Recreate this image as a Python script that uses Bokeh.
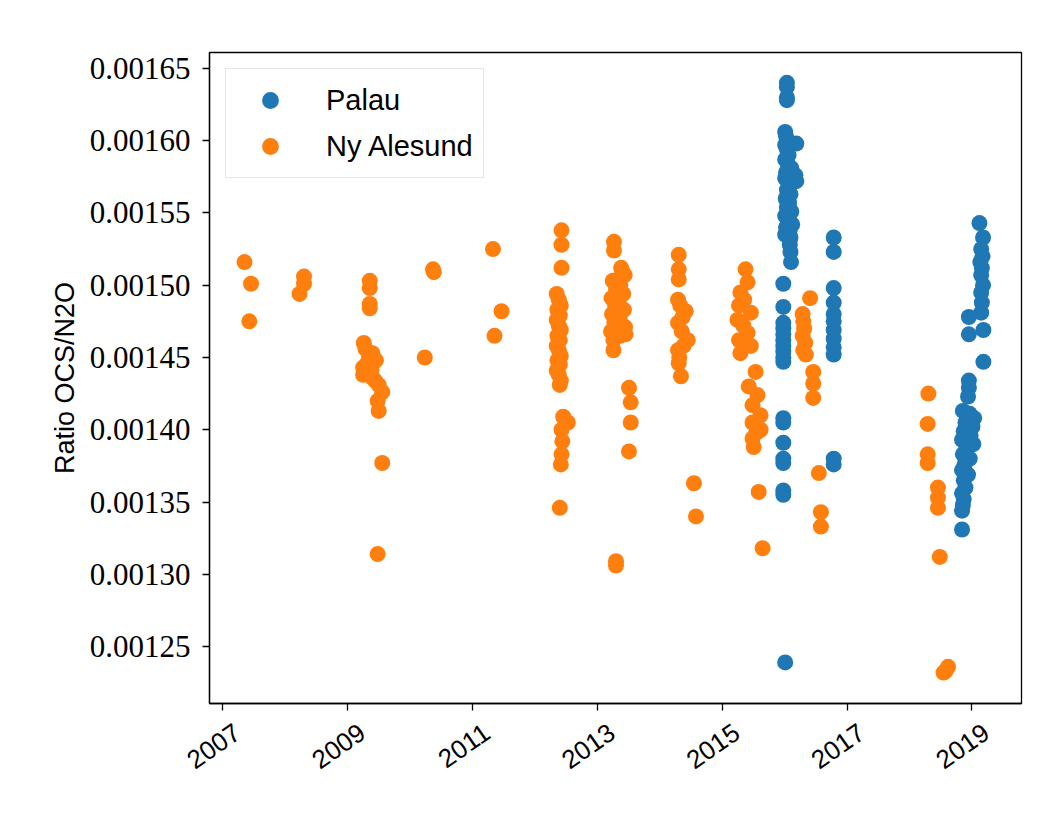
import math
import pandas as pd
from bokeh.plotting import figure
from bokeh.models import (ColumnDataSource, FixedTicker, PrintfTickFormatter,
                          CustomJSTickFormatter, DatetimeTickFormatter, DatetimeAxis,
                          Range1d, Legend, LegendItem)
from bokeh.embed import file_html
from bokeh.resources import INLINE

# ---- Palau (blue) ----
palau_dates = [
    "2016-01-15", "2016-01-15", "2016-01-15", "2016-01-15",
    "2016-01-05", "2016-01-10", "2016-01-20", "2016-01-05", "2016-03-10", "2016-01-15",
    "2016-01-25", "2016-01-05", "2016-01-20", "2016-02-10", "2016-01-10", "2016-03-05",
    "2016-03-10", "2016-01-05", "2016-01-25", "2016-01-15", "2016-02-05", "2016-01-08",
    "2016-01-28", "2016-01-15", "2016-02-10", "2016-01-05", "2016-01-25", "2016-02-15",
    "2016-01-10", "2016-01-30", "2016-01-05", "2016-02-05", "2016-02-01", "2016-02-05",
    "2016-02-08",
    "2015-12-25", "2015-12-25", "2015-12-25", "2015-12-25", "2015-12-25", "2015-12-25",
    "2015-12-25", "2015-12-25", "2015-12-25", "2015-12-25", "2015-12-25", "2015-12-25",
    "2015-12-25", "2015-12-25", "2015-12-25", "2015-12-25", "2015-12-25", "2016-01-05",
    "2016-10-15", "2016-10-15", "2016-10-15", "2016-10-15", "2016-10-15", "2016-10-15",
    "2016-10-15", "2016-10-15", "2016-10-15", "2016-10-15", "2016-10-15", "2016-10-15",
    "2019-02-15", "2019-03-08", "2019-02-25", "2019-03-05", "2019-02-20", "2019-03-01",
    "2019-02-25", "2019-03-08", "2019-02-25", "2019-03-01", "2019-02-25", "2018-12-15",
    "2019-03-10", "2018-12-15", "2019-03-10", "2018-12-15", "2018-12-15", "2018-12-10",
    "2018-11-10", "2018-12-20", "2019-01-15", "2018-11-25", "2019-01-05", "2018-11-15",
    "2018-12-25", "2018-11-05", "2019-01-10", "2018-11-30", "2018-11-10", "2018-12-20",
    "2018-11-20", "2018-11-05", "2018-12-10", "2018-11-15", "2018-11-25", "2018-11-05",
    "2018-11-15", "2018-11-10", "2018-11-05", "2018-11-05",
]
palau_values = [
    0.001640, 0.001637, 0.001630, 0.001628,
    0.001606, 0.001603, 0.001600, 0.001597, 0.001598, 0.001594,
    0.001590, 0.001587, 0.001584, 0.001581, 0.001578, 0.001576,
    0.001572, 0.001574, 0.001570, 0.001566, 0.001563, 0.001560,
    0.001557, 0.001554, 0.001551, 0.001548, 0.001545, 0.001542,
    0.001540, 0.001537, 0.001535, 0.001533, 0.001528, 0.001523,
    0.001516,
    0.001501, 0.001485, 0.001474, 0.001470, 0.001466, 0.001462,
    0.001458, 0.001454, 0.001450, 0.001447, 0.001408, 0.001405,
    0.001391, 0.001380, 0.001377, 0.001358, 0.001355, 0.001239,
    0.001533, 0.001523, 0.001498, 0.001488, 0.001480, 0.001475,
    0.001469, 0.001463, 0.001457, 0.001452, 0.001380, 0.001376,
    0.001543, 0.001533, 0.001525, 0.001520, 0.001516, 0.001512,
    0.001507, 0.001500, 0.001495, 0.001488, 0.001481, 0.001478,
    0.001469, 0.001466, 0.001447, 0.001434, 0.001429, 0.001423,
    0.001413, 0.001411, 0.001408, 0.001405, 0.001402, 0.001399,
    0.001396, 0.001393, 0.001390, 0.001387, 0.001383, 0.001380,
    0.001376, 0.001372, 0.001369, 0.001365, 0.001360, 0.001356,
    0.001352, 0.001348, 0.001344, 0.001331,
]

# ---- Ny Alesund (orange) ----
ny_dates = [
    "2007-05-08", "2007-06-15", "2007-06-05",
    "2008-04-20", "2008-04-20", "2008-03-25",
    "2009-05-10", "2009-05-10", "2009-05-10", "2009-05-10", "2009-04-05", "2009-04-15",
    "2009-05-25", "2009-05-05", "2009-06-15", "2009-04-25", "2009-04-01", "2009-05-20",
    "2009-04-01", "2009-05-25", "2009-06-10", "2009-07-01", "2009-07-22", "2009-06-25",
    "2009-07-01", "2009-07-22", "2009-06-25",
    "2010-03-28", "2010-05-15", "2010-05-20",
    "2011-05-01", "2011-06-20", "2011-05-10",
    "2012-06-05", "2012-06-05", "2012-06-05",
    "2012-05-08", "2012-05-20", "2012-06-01", "2012-05-12", "2012-05-26", "2012-05-08",
    "2012-05-20", "2012-06-01", "2012-05-12", "2012-05-26", "2012-05-08", "2012-05-20",
    "2012-06-01", "2012-05-12", "2012-05-26", "2012-05-08", "2012-05-20", "2012-06-01",
    "2012-05-26",
    "2012-06-15", "2012-07-12", "2012-06-05", "2012-06-10", "2012-06-05", "2012-06-01",
    "2012-05-26",
    "2013-04-08", "2013-04-08", "2013-05-20",
    "2013-05-25", "2013-06-10", "2013-04-01", "2013-05-15", "2013-04-20", "2013-06-01",
    "2013-03-25", "2013-05-05", "2013-04-15", "2013-06-05", "2013-03-28", "2013-05-10",
    "2013-04-10", "2013-06-12", "2013-03-22", "2013-05-15", "2013-04-05", "2013-06-15",
    "2013-04-05",
    "2013-07-05", "2013-07-15", "2013-07-15", "2013-07-05", "2013-04-20", "2013-04-20",
    "2014-04-22", "2014-04-22", "2014-04-22", "2014-04-18", "2014-06-02", "2014-04-18",
    "2014-05-15", "2014-06-14", "2014-04-18", "2014-04-22", "2014-05-05", "2014-05-01",
    "2014-05-10", "2014-04-25", "2014-05-20", "2014-07-20", "2014-08-01",
    "2015-05-18", "2015-05-30", "2015-04-18", "2015-05-10", "2015-04-10", "2015-06-18",
    "2015-04-01", "2015-05-30", "2015-05-05", "2015-04-10", "2015-06-18", "2015-04-18",
    "2015-07-16", "2015-06-06", "2015-07-27", "2015-06-28", "2015-08-14", "2015-06-28",
    "2015-08-14", "2015-06-28", "2015-07-20", "2015-07-05", "2015-08-03", "2015-08-26",
    "2016-05-30", "2016-04-16", "2016-04-20", "2016-04-25", "2016-04-16", "2016-05-01",
    "2016-04-20", "2016-05-05", "2016-06-17", "2016-06-17", "2016-06-17", "2016-07-20",
    "2016-08-01", "2016-08-01",
    "2018-04-22", "2018-04-18", "2018-04-18", "2018-04-18", "2018-06-17", "2018-06-17",
    "2018-06-17", "2018-06-28", "2018-08-15", "2018-08-01", "2018-07-20",
]
ny_values = [
    0.001516, 0.001501, 0.001475,
    0.001506, 0.001501, 0.001494,
    0.001503, 0.001498, 0.001487, 0.001484, 0.001460, 0.001456,
    0.001453, 0.001451, 0.001448, 0.001446, 0.001443, 0.001441,
    0.001438, 0.001436, 0.001434, 0.001431, 0.001426, 0.001420,
    0.001413, 0.001377, 0.001314,
    0.001450, 0.001511, 0.001509,
    0.001525, 0.001482, 0.001465,
    0.001538, 0.001528, 0.001512,
    0.001494, 0.001490, 0.001486, 0.001483, 0.001479, 0.001476,
    0.001472, 0.001469, 0.001465, 0.001462, 0.001458, 0.001455,
    0.001451, 0.001448, 0.001445, 0.001441, 0.001438, 0.001434,
    0.001431,
    0.001409, 0.001405, 0.001400, 0.001392, 0.001383, 0.001376,
    0.001346,
    0.001530, 0.001524, 0.001512,
    0.001510, 0.001507, 0.001503, 0.001500, 0.001497, 0.001494,
    0.001491, 0.001489, 0.001486, 0.001483, 0.001480, 0.001477,
    0.001474, 0.001471, 0.001468, 0.001465, 0.001462, 0.001466,
    0.001455,
    0.001429, 0.001419, 0.001405, 0.001385, 0.001309, 0.001306,
    0.001521, 0.001511, 0.001504, 0.001490, 0.001482, 0.001474,
    0.001478, 0.001462, 0.001455, 0.001446, 0.001437, 0.001486,
    0.001468, 0.001450, 0.001458, 0.001363, 0.001340,
    0.001511, 0.001502, 0.001495, 0.001490, 0.001486, 0.001481,
    0.001476, 0.001467, 0.001472, 0.001462, 0.001458, 0.001453,
    0.001440, 0.001430, 0.001424, 0.001417, 0.001410, 0.001405,
    0.001400, 0.001394, 0.001398, 0.001388, 0.001357, 0.001318,
    0.001491, 0.001480, 0.001475, 0.001470, 0.001465, 0.001460,
    0.001455, 0.001452, 0.001440, 0.001432, 0.001422, 0.001370,
    0.001343, 0.001333,
    0.001425, 0.001404, 0.001383, 0.001377, 0.001360, 0.001353,
    0.001346, 0.001312, 0.001236, 0.001233, 0.001232,
]

y_ticks = [0.00125, 0.00130, 0.00135, 0.00140, 0.00145, 0.00150, 0.00155, 0.00160, 0.00165]
x_tick_years = [2007, 2009, 2011, 2013, 2015, 2017, 2019]
series_names = ["Palau", "Ny Alesund"]
series_colors = ["#1f77b4", "#ff7f0e"]

palau_src = ColumnDataSource(data=dict(x=pd.to_datetime(palau_dates), y=palau_values))
ny_src = ColumnDataSource(data=dict(x=pd.to_datetime(ny_dates), y=ny_values))

y_lo, y_hi = 0.0012106, 0.001661

p = figure(width=1040, height=795, x_axis_type="datetime",
           output_backend="svg", toolbar_location=None,
           min_border_left=209, min_border_right=19,
           min_border_top=52, min_border_bottom=92,
           x_range=Range1d(pd.Timestamp("2006-10-15"), pd.Timestamp("2019-10-19")),
           y_range=Range1d(y_lo, y_hi))

r1 = p.scatter("x", "y", source=palau_src, size=16, color=series_colors[0], line_color=None)
r2 = p.scatter("x", "y", source=ny_src, size=16, color=series_colors[1], line_color=None)

p.xgrid.visible = False
p.ygrid.visible = False
p.outline_line_color = "black"
p.outline_line_width = 1.3
p.outline_line_alpha = 1.0
p.background_fill_color = "white"
p.border_fill_color = "white"

# y axis
p.yaxis.ticker = FixedTicker(ticks=y_ticks)
p.yaxis.formatter = PrintfTickFormatter(format="%.5f")
p.yaxis.axis_label = "Ratio OCS/N2O"
p.yaxis.axis_label_text_font = "Liberation Sans"
p.yaxis.axis_label_text_font_style = "normal"
p.yaxis.axis_label_text_font_size = "27px"
p.yaxis.axis_label_text_color = "black"
p.yaxis.axis_label_standoff = 7
p.yaxis.major_label_text_font = "Liberation Serif"
p.yaxis.major_label_text_font_size = "31px"
p.yaxis.major_label_standoff = 12

# x axis: tick marks on Jan 1 of each labelled year
tick_dates = [pd.Timestamp(f"{y}-01-01") for y in x_tick_years]
p.xaxis.ticker = FixedTicker(ticks=[t.value / 1e6 for t in tick_dates])
p.xaxis.formatter = CustomJSTickFormatter(code="return ''")
p.xaxis.major_label_standoff = 0

for ax in (p.xaxis[0], p.yaxis[0]):
    ax.major_tick_out = 7
    ax.major_tick_in = 0
    ax.minor_tick_out = 0
    ax.minor_tick_in = 0
    ax.axis_line_color = "black"
    ax.axis_line_width = 1.3
    ax.major_tick_line_width = 1.3
    ax.major_label_text_color = "black"

# rotated year labels (matplotlib-style slanted labels)
label_shift = pd.Timedelta(days=85)
fmt = "%Y"
label_axis = DatetimeAxis(
    ticker=FixedTicker(ticks=[(t + label_shift).value / 1e6 for t in tick_dates]),
    formatter=DatetimeTickFormatter(years=fmt, months=fmt, days=fmt, hours=fmt,
                                    hourmin=fmt, minutes=fmt, minsec=fmt,
                                    seconds=fmt, milliseconds=fmt, microseconds=fmt),
    major_label_orientation=math.radians(35),
    major_label_text_font="Liberation Sans",
    major_label_text_font_size="26px",
    major_label_text_color="black",
    major_label_standoff=19,
    major_tick_out=0, major_tick_in=0, minor_tick_out=0, minor_tick_in=0,
    axis_line_color=None, major_tick_line_color=None, minor_tick_line_color=None)
p.add_layout(label_axis, "below")

legend = Legend(items=[LegendItem(label=series_names[0], renderers=[r1]),
                       LegendItem(label=series_names[1], renderers=[r2])],
                location="top_left")
legend.margin = 16
legend.padding = 10
legend.spacing = 4
legend.glyph_width = 68
legend.glyph_height = 42
legend.label_height = 42
legend.label_standoff = 22
legend.label_text_font = "Liberation Sans"
legend.label_text_font_size = "29px"
legend.label_text_color = "black"
legend.border_line_color = "#cccccc"
legend.border_line_width = 1.3
legend.background_fill_alpha = 0.8
p.add_layout(legend)

open("out.html", "w").write(file_html(p, INLINE))
